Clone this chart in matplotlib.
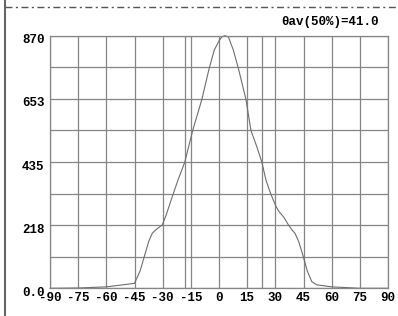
import matplotlib

matplotlib.use("Agg")
import matplotlib.pyplot as plt
import matplotlib.transforms as mtransforms
from matplotlib.lines import Line2D
import numpy as np

# intensite relative vs angle
angles = [-90, -75, -60, -45, -42, -39.8, -37.5, -35.5, -33, -30.2, -28,
          -25.5, -22, -18.2, -14, -9.2, -5.2, -2.5, 0, 1.5, 3, 5, 7.6, 10.3,
          14.4, 17, 20, 22.8, 25, 27, 28.9, 30.5, 32, 34.5, 37, 39, 40.5,
          42.5, 44.9, 47, 49.4, 52, 60, 75, 90]
values = [0, 1, 5, 17, 60, 109, 160, 190, 205, 218, 255,
          304, 370, 435, 544, 649, 758, 821, 852, 866, 870, 866, 821, 758,
          649, 544, 490, 435, 373, 335, 304, 280, 264, 245, 218, 200, 189,
          160, 109, 60, 23, 12, 5, 0, 0]
half_angles = [-18.2, 22.8]   # limites a 50 %
x_ticks = list(range(-90, 91, 15))
y_max = 870
y_labels = ["0.0", "218", "435", "653", "870"]
title = "\u03b8av(50%)=41.0"

W, H = 398, 316
fig = plt.figure(figsize=(W / 100, H / 100), dpi=100)
ax = fig.add_axes([50 / W, (H - 288.3) / H, 338 / W, 252.6 / H])

grid_c = "#858585"
font = dict(family="Liberation Mono", weight="bold", size=9)

ax.set_xlim(-90, 90)
ax.set_ylim(0, y_max)
ax.set_xticks(x_ticks)
ax.set_xticklabels([str(t) for t in x_ticks], **font)
ax.set_yticks(np.linspace(0, y_max, 9))
ax.set_yticklabels([y_labels[j // 2] if j % 2 == 0 else "" for j in range(9)],
                   **font)
ax.tick_params(length=0)
ax.tick_params(axis="x", pad=2.5)
ax.tick_params(axis="y", pad=4)
off = mtransforms.ScaledTranslation(0, -3 / 100, fig.dpi_scale_trans)
for lab in ax.get_yticklabels():
    lab.set_transform(lab.get_transform() + off)

ax.grid(True, color=grid_c, linewidth=0.9)
for a in half_angles:
    ax.axvline(a, color=grid_c, linewidth=0.9)
for s in ax.spines.values():
    s.set_color(grid_c)
    s.set_linewidth(0.9)

ax.plot(angles, values, color="#6e6e6e", linewidth=0.8, clip_on=False)

fig.text(379 / W, 1 - 22.5 / H, title, ha="right", va="center", **font)

# cadre de page : trait gauche et tirets-points en haut
fig.add_artist(Line2D([4.5 / W, 4.5 / W], [0, 1], color="#666666",
                      linewidth=1.5, transform=fig.transFigure))
fig.add_artist(Line2D([4.5 / W, 1], [1 - 7 / H, 1 - 7 / H], color="#555555",
                      linewidth=1.0, linestyle=(0, (5, 2.5, 1.5, 2.5)),
                      transform=fig.transFigure))

fig.savefig("out.png", dpi=100)
